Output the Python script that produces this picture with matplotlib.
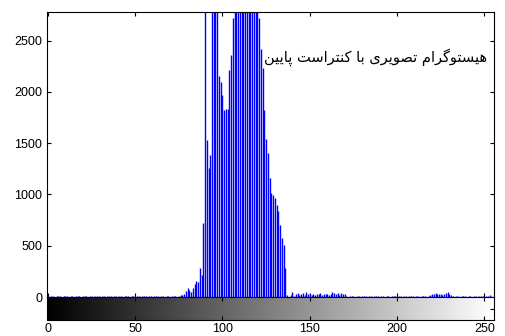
import numpy as np
import matplotlib
matplotlib.use("Agg")
import matplotlib.pyplot as plt

# Histogram counts (grey levels 0..255)
# low background counts, grey levels 0..77
left_start = 0
left_counts = [12, 0, 10, 12, 0, 11, 10, 12, 0, 10, 12, 11, 0, 10, 12, 0,
               11, 12, 10, 0, 12, 10, 11, 0, 12, 10, 0, 11, 12, 10, 0, 10,
               12, 0, 11, 10, 12, 0, 10, 11, 0, 12, 10, 0, 11, 10, 12, 0,
               10, 12, 0, 11, 10, 0, 12, 10, 11, 0, 10, 12, 0, 11, 10, 12,
               0, 10, 11, 0, 12, 10, 0, 11, 12, 10, 0, 12, 15, 18]

# main peak, grey levels 78..136 (values above ~2780 are clipped in the plot)
peak_start = 78
peak_counts = [25, 61, 87, 71, 50, 90, 126, 152, 145, 281, 217, 718,
               3900, 1527, 1259, 1388, 3600, 4100, 3300, 3800, 2158, 2094,
               1971, 1820, 1830, 1835, 2215, 2362, 2725, 3400, 3900, 3100,
               4000, 3600, 3300, 3800, 4200, 3500, 3000, 3700, 3200, 2950,
               3000, 2720, 2420, 2230, 1820, 1545, 1400, 1165, 1010, 995,
               970, 895, 835, 700, 575, 510, 280, 60]

# low background counts, grey levels 137..255
right_start = 137
right_counts = [20, 0, 15, 50, 10, 25, 40, 15, 30, 35, 20, 45, 30, 25, 15,
                30, 20, 30, 25, 35, 20, 30, 25, 30, 20, 30, 50, 40, 30, 35,
                20, 40, 25, 30, 10, 0, 10, 12, 10, 0, 11, 10, 0, 12, 10, 11,
                0, 10, 12, 0, 11, 10, 12, 0, 10, 11, 0, 12, 10, 0, 11, 10,
                12, 0, 10, 12, 0, 11, 10, 0, 12, 10, 11, 0, 10, 12, 0, 11,
                10, 12, 0, 10, 15, 25, 30, 35, 30, 25, 30, 20, 25, 35, 50,
                25, 20, 10, 0, 10, 12, 0, 11, 10, 12, 0, 10, 11, 0, 12, 10,
                0, 11, 10, 12, 0, 10, 12, 15]

y_ticks = [0, 500, 1000, 1500, 2000, 2500]
x_ticks = [0, 50, 100, 150, 200, 250]
title_text = "هیستوگرام تصویری با کنتراست پایین"

# isolated, final, initial, medial presentation forms
FORMS = {
    "ا": ("\uFE8D", "\uFE8E", None, None),
    "و": ("\uFEED", "\uFEEE", None, None),
    "ر": ("\uFEAD", "\uFEAE", None, None),
    "ه": ("\uFEE9", "\uFEEA", "\uFEEB", "\uFEEC"),
    "ی": ("\uFBFC", "\uFBFD", "\uFBFE", "\uFBFF"),
    "س": ("\uFEB1", "\uFEB2", "\uFEB3", "\uFEB4"),
    "ت": ("\uFE95", "\uFE96", "\uFE97", "\uFE98"),
    "گ": ("\uFB92", "\uFB93", "\uFB94", "\uFB95"),
    "م": ("\uFEE1", "\uFEE2", "\uFEE3", "\uFEE4"),
    "ص": ("\uFEB9", "\uFEBA", "\uFEBB", "\uFEBC"),
    "ب": ("\uFE8F", "\uFE90", "\uFE91", "\uFE92"),
    "ک": ("\uFB8E", "\uFB8F", "\uFB90", "\uFB91"),
    "ن": ("\uFEE5", "\uFEE6", "\uFEE7", "\uFEE8"),
    "پ": ("\uFB56", "\uFB57", "\uFB58", "\uFB59"),
}


def shape_persian(text):
    # matplotlib has no arabic shaping, so pick joined forms and reverse
    out = []
    for i, c in enumerate(text):
        if c not in FORMS:
            out.append(c)
            continue
        prev = text[i - 1] if i > 0 else " "
        nxt = text[i + 1] if i + 1 < len(text) else " "
        join_prev = prev in FORMS and FORMS[prev][2] is not None
        join_next = FORMS[c][2] is not None and nxt in FORMS
        if join_prev and join_next:
            out.append(FORMS[c][3])
        elif join_prev:
            out.append(FORMS[c][1])
        elif join_next:
            out.append(FORMS[c][2])
        else:
            out.append(FORMS[c][0])
    return "".join(reversed(out))


counts = np.zeros(256)
for start, vals in [(left_start, left_counts), (peak_start, peak_counts),
                    (right_start, right_counts)]:
    counts[start:start + len(vals)] = vals
levels = np.arange(256)

plt.rcParams["font.family"] = ["Liberation Sans", "DejaVu Sans"]

fig = plt.figure(figsize=(5.06, 3.36), dpi=100)
ax = fig.add_axes([47 / 506, 1 - 297 / 336, 447 / 506, 285 / 336])
cax = fig.add_axes([47 / 506, 1 - 320 / 336, 447 / 506, 23 / 336])

# stem-like histogram
ax.vlines(levels, 0, counts, color="#0000ff", linewidth=1.0)
ax.set_xlim(-0.5, 255.5)
ax.set_ylim(0, 2780)
ax.set_yticks(y_ticks)
ax.set_xticks(x_ticks)
ax.set_xticklabels([])
ax.tick_params(direction="in", top=True, right=True, length=3, width=0.8,
               labelsize=9)
for s in ax.spines.values():
    s.set_linewidth(0.8)

ax.text(0.984, 0.842, shape_persian(title_text), transform=ax.transAxes,
        ha="right", va="center", fontsize=10.5, family="DejaVu Sans")

# grey level bar under the histogram
gradient = np.linspace(0, 255, 256).reshape(1, -1)
cax.imshow(gradient, cmap="gray", aspect="auto", extent=[-0.5, 255.5, 0, 1],
           vmin=0, vmax=255)
cax.set_xlim(-0.5, 255.5)
cax.set_ylim(0, 1)
cax.set_xticks(x_ticks)
cax.set_yticks([0.5])
cax.set_yticklabels([])
cax.tick_params(axis="x", direction="in", top=True, length=3, width=0.8,
                labelsize=9, pad=2)
cax.tick_params(axis="y", direction="in", left=False, right=True, length=3,
                width=0.8)
for s in cax.spines.values():
    s.set_linewidth(0.8)

fig.savefig("out.png", dpi=100)
